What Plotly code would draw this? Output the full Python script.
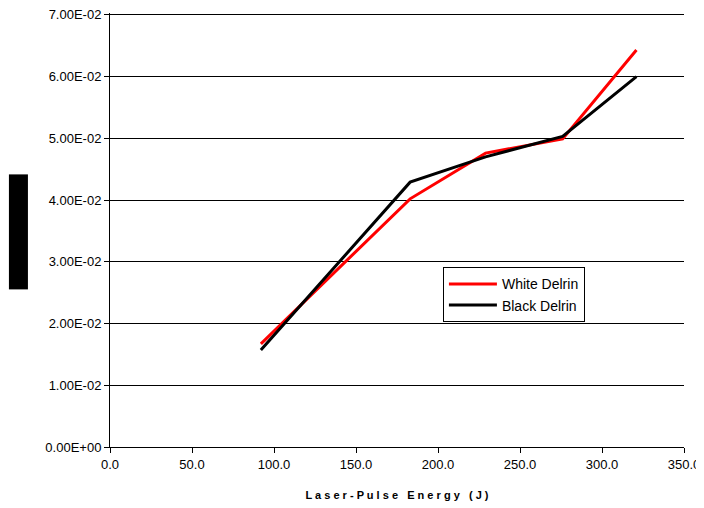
import plotly.graph_objects as go

energy = [92.0, 183.0, 229.0, 276.0, 321.0]
white_delrin = [1.67e-2, 4.02e-2, 4.76e-2, 4.99e-2, 6.43e-2]
black_delrin = [1.57e-2, 4.29e-2, 4.70e-2, 5.03e-2, 6.00e-2]

y_ticks = [0, 0.01, 0.02, 0.03, 0.04, 0.05, 0.06, 0.07]
y_tick_labels = ["0.00E+00", "1.00E-02", "2.00E-02", "3.00E-02", "4.00E-02", "5.00E-02", "6.00E-02", "7.00E-02"]
x_ticks = [0, 50, 100, 150, 200, 250, 300, 350]
x_tick_labels = ["0.0", "50.0", "100.0", "150.0", "200.0", "250.0", "300.0", "350.0"]

fig = go.Figure()
fig.add_trace(go.Scatter(x=energy, y=white_delrin, mode="lines", name="White Delrin",
                         line=dict(color="#ff0000", width=3)))
fig.add_trace(go.Scatter(x=energy, y=black_delrin, mode="lines", name="Black Delrin",
                         line=dict(color="#000000", width=3)))

font = "Liberation Sans, Arial, sans-serif"
fig.update_layout(
    width=696, height=500,
    margin=dict(l=102, r=20, t=5, b=61),
    paper_bgcolor="white", plot_bgcolor="white",
    font=dict(family=font, size=13, color="black"),
    showlegend=True,
    legend=dict(x=0.58, y=0.414, xanchor="left", yanchor="top",
                bordercolor="black", borderwidth=1, bgcolor="white",
                font=dict(size=14), itemwidth=48),
    xaxis=dict(range=[0, 350], tickvals=x_ticks, ticktext=x_tick_labels,
               showline=True, linecolor="black", linewidth=1,
               ticks="outside", ticklen=5, tickcolor="black",
               showgrid=False, zeroline=False, automargin=False,
               ticklabeloverflow="allow",
               title=dict(text="<b>L a s e r - P u l s e   E n e r g y   ( J )</b>",
                          font=dict(size=11), standoff=20)),
    yaxis=dict(range=[0, 0.0703], tickvals=y_ticks, ticktext=y_tick_labels,
               showline=True, linecolor="black", linewidth=1,
               ticks="outside", ticklen=5, tickcolor="black",
               showgrid=True, gridcolor="black", gridwidth=1,
               zeroline=False, automargin=False, ticklabeloverflow="allow"),
)

fig.add_annotation(xref="paper", yref="paper", x=-0.16, y=0.496,
                   text="<b>Coupling Coefficient</b>", textangle=-90,
                   showarrow=False, bgcolor="black", font=dict(color="black", size=11),
                   xanchor="center", yanchor="middle", borderpad=3)

fig.write_html("out.html")
